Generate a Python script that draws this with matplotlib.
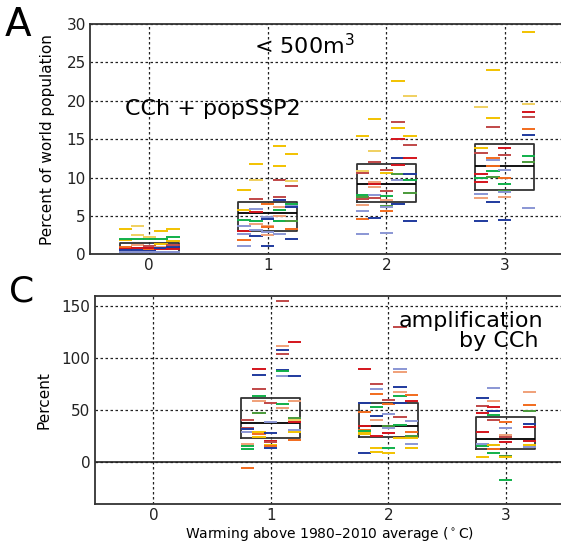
import numpy as np
import matplotlib
matplotlib.use("Agg")
import matplotlib.pyplot as plt

# colour of each hydrological model
PALETTE = {
    'gold': '#f2c200', 'lightgold': '#f0d060', 'orange': '#f26b1d',
    'salmon': '#f0a078', 'red': '#d4141c', 'rose': '#c04848',
    'navy': '#1f3a9e', 'lightblue': '#8a96d4', 'green': '#10b04a',
    'olive': '#4a9a3a',
}

# ---- panel A: percent of world population below 500 m3 ----
# (column 1..5 within a warming level, value, model colour)
A_G0 = [(1, 3.35, 'gold'), (1, 1.8, 'gold'), (1, 2.05, 'green'), (1, 1.0, 'orange'),
        (1, 0.75, 'red'), (1, 0.5, 'navy'), (1, 0.3, 'lightblue'),
        (2, 3.65, 'lightgold'), (2, 2.5, 'lightgold'), (2, 2.05, 'green'), (2, 1.2, 'salmon'),
        (2, 0.85, 'red'), (2, 0.6, 'navy'), (2, 0.35, 'lightblue'),
        (3, 2.2, 'lightgold'), (3, 1.95, 'green'), (3, 1.1, 'rose'), (3, 0.8, 'red'),
        (3, 0.6, 'orange'), (3, 0.45, 'navy'), (3, 0.25, 'lightblue'),
        (4, 3.1, 'gold'), (4, 1.95, 'green'), (4, 1.4, 'gold'), (4, 1.0, 'salmon'),
        (4, 0.65, 'red'), (4, 0.85, 'navy'), (4, 0.3, 'lightblue'),
        (5, 3.35, 'gold'), (5, 2.2, 'green'), (5, 1.75, 'gold'), (5, 1.2, 'rose'),
        (5, 0.7, 'red'), (5, 0.9, 'navy'), (5, 0.35, 'lightblue')]
A_G1 = [(1, 8.4, 'gold'), (1, 5.8, 'gold'), (1, 4.5, 'green'), (1, 3.7, 'lightblue'),
        (1, 3.0, 'red'), (1, 2.6, 'lightblue'), (1, 1.85, 'orange'), (1, 1.1, 'lightblue'),
        (2, 11.75, 'gold'), (2, 9.7, 'lightgold'), (2, 7.2, 'rose'), (2, 5.9, 'lightblue'),
        (2, 5.5, 'red'), (2, 4.35, 'green'), (2, 3.9, 'salmon'), (2, 3.2, 'lightblue'),
        (2, 2.4, 'navy'),
        (3, 6.6, 'orange'), (3, 4.8, 'lightblue'), (3, 4.6, 'navy'), (3, 3.7, 'salmon'),
        (3, 3.5, 'orange'), (3, 2.85, 'lightblue'), (3, 2.5, 'salmon'), (3, 1.1, 'navy'),
        (4, 14.1, 'gold'), (4, 11.45, 'gold'), (4, 9.7, 'rose'), (4, 7.5, 'rose'),
        (4, 7.1, 'navy'), (4, 6.1, 'salmon'), (4, 5.8, 'green'), (4, 5.0, 'salmon'),
        (4, 4.3, 'green'), (4, 2.7, 'lightblue'),
        (5, 13.05, 'gold'), (5, 9.5, 'lightgold'), (5, 8.9, 'rose'), (5, 6.6, 'green'),
        (5, 6.3, 'lightblue'), (5, 6.1, 'navy'), (5, 4.3, 'olive'), (5, 3.3, 'orange'),
        (5, 2.0, 'navy')]
A_G2 = [(1, 15.35, 'gold'), (1, 10.8, 'lightgold'), (1, 10.6, 'rose'), (1, 7.7, 'green'),
        (1, 7.5, 'olive'), (1, 7.2, 'rose'), (1, 6.4, 'salmon'), (1, 5.7, 'lightblue'),
        (1, 4.6, 'orange'), (1, 2.65, 'lightblue'),
        (2, 17.6, 'gold'), (2, 13.5, 'lightgold'), (2, 12.0, 'rose'), (2, 9.4, 'salmon'),
        (2, 9.1, 'red'), (2, 8.8, 'salmon'), (2, 7.7, 'lightblue'), (2, 7.3, 'rose'),
        (2, 4.7, 'navy'),
        (3, 11.0, 'rose'), (3, 10.6, 'gold'), (3, 8.3, 'rose'), (3, 7.6, 'green'),
        (3, 7.1, 'salmon'), (3, 6.3, 'olive'), (3, 6.2, 'lightblue'), (3, 5.6, 'orange'),
        (3, 2.8, 'lightblue'),
        (4, 22.6, 'gold'), (4, 17.3, 'rose'), (4, 16.4, 'gold'), (4, 15.0, 'red'),
        (4, 12.5, 'navy'), (4, 11.6, 'red'), (4, 10.4, 'olive'), (4, 9.7, 'lightblue'),
        (4, 6.5, 'navy'),
        (5, 20.65, 'lightgold'), (5, 15.35, 'gold'), (5, 14.2, 'rose'), (5, 12.5, 'red'),
        (5, 10.5, 'navy'), (5, 9.7, 'green'), (5, 8.0, 'olive'), (5, 4.3, 'navy')]
A_G3 = [(1, 19.2, 'lightgold'), (1, 13.9, 'gold'), (1, 13.2, 'rose'), (1, 10.4, 'red'),
        (1, 9.9, 'green'), (1, 9.4, 'red'), (1, 7.8, 'lightblue'), (1, 7.4, 'salmon'),
        (1, 4.3, 'navy'),
        (2, 24.0, 'gold'), (2, 17.7, 'gold'), (2, 16.6, 'rose'), (2, 12.6, 'orange'),
        (2, 12.3, 'lightblue'), (2, 11.5, 'orange'), (2, 10.9, 'green'), (2, 10.1, 'olive'),
        (2, 6.8, 'navy'),
        (3, 13.8, 'red'), (3, 12.9, 'rose'), (3, 11.0, 'lightblue'), (3, 10.0, 'orange'),
        (3, 9.1, 'green'), (3, 8.25, 'olive'), (3, 8.1, 'lightblue'), (3, 7.5, 'salmon'),
        (3, 4.5, 'navy'),
        (5, 29.0, 'gold'), (5, 19.6, 'lightgold'), (5, 18.6, 'red'), (5, 17.9, 'rose'),
        (5, 16.3, 'orange'), (5, 15.5, 'navy'), (5, 12.8, 'green'), (5, 12.0, 'olive'),
        (5, 6.0, 'lightblue')]
A_GROUPS = [A_G0, A_G1, A_G2, A_G3]
A_POS = [0, 1, 2, 3]
A_Q1 = [0.35, 3.1, 6.8, 8.4]
A_MED = [0.8, 5.35, 9.2, 11.55]
A_Q3 = [1.45, 6.75, 11.7, 14.35]

# ---- panel C: amplification by climate change (percent) ----
C_G1 = [(1, -5.4, 'orange'), (1, 17.2, 'salmon'), (1, 15.3, 'green'), (1, 13.1, 'green'),
        (1, 28.7, 'lightblue'), (1, 33.4, 'rose'), (1, 32.0, 'navy'), (1, 40.8, 'rose'),
        (2, 90.1, 'red'), (2, 83.8, 'navy'), (2, 70.7, 'rose'), (2, 63.4, 'green'),
        (2, 59.2, 'salmon'), (2, 47.8, 'olive'), (2, 28.7, 'gold'), (2, 27.4, 'orange'),
        (2, 24.8, 'gold'),
        (3, 57.3, 'rose'), (3, 38.5, 'lightblue'), (3, 27.7, 'navy'), (3, 20.4, 'red'),
        (3, 19.1, 'rose'), (3, 16.6, 'gold'), (3, 15.9, 'orange'), (3, 14.0, 'navy'),
        (4, 154.5, 'rose'), (4, 111.8, 'salmon'), (4, 108.3, 'navy'), (4, 104.1, 'rose'),
        (4, 88.5, 'navy'), (4, 87.6, 'green'), (4, 82.8, 'lightblue'), (4, 55.7, 'green'),
        (4, 52.5, 'salmon'),
        (5, 115.6, 'red'), (5, 82.5, 'navy'), (5, 59.2, 'salmon'), (5, 42.7, 'olive'),
        (5, 40.8, 'lightgold'), (5, 38.5, 'red'), (5, 31.2, 'lightblue'), (5, 29.0, 'gold'),
        (5, 21.7, 'orange')]
C_G2 = [(1, 89.6, 'red'), (1, 57.0, 'navy'), (1, 48.1, 'orange'), (1, 34.5, 'red'),
        (1, 31.0, 'orange'), (1, 29.7, 'green'), (1, 28.5, 'gold'), (1, 27.2, 'gold'),
        (1, 8.5, 'navy'),
        (2, 75.6, 'rose'), (2, 70.3, 'lightblue'), (2, 65.2, 'orange'), (2, 53.2, 'green'),
        (2, 44.6, 'navy'), (2, 40.8, 'salmon'), (2, 25.6, 'red'), (2, 13.9, 'gold'),
        (2, 9.5, 'gold'),
        (3, 60.1, 'rose'), (3, 55.7, 'orange'), (3, 46.8, 'lightblue'), (3, 34.5, 'olive'),
        (3, 32.6, 'lightblue'), (3, 27.8, 'red'), (3, 13.9, 'green'), (3, 8.5, 'gold'),
        (4, 129.7, 'rose'), (4, 89.2, 'lightblue'), (4, 86.7, 'salmon'), (4, 72.5, 'navy'),
        (4, 67.1, 'salmon'), (4, 63.9, 'green'), (4, 56.6, 'navy'), (4, 43.7, 'rose'),
        (4, 36.1, 'green'), (4, 23.7, 'gold'),
        (5, 64.2, 'orange'), (5, 58.9, 'red'), (5, 39.6, 'lightblue'), (5, 28.8, 'orange'),
        (5, 25.6, 'olive'), (5, 23.7, 'gold'), (5, 17.4, 'lightblue'), (5, 13.9, 'gold')]
C_G3 = [(1, 61.7, 'navy'), (1, 54.1, 'rose'), (1, 47.2, 'red'), (1, 29.4, 'red'),
        (1, 18.0, 'lightblue'), (1, 16.1, 'green'), (1, 4.7, 'gold'),
        (2, 71.2, 'lightblue'), (2, 58.9, 'salmon'), (2, 53.2, 'red'), (2, 49.4, 'navy'),
        (2, 45.9, 'green'), (2, 40.5, 'rose'), (2, 17.1, 'navy'), (2, 16.8, 'gold'),
        (2, 12.7, 'orange'), (2, 8.5, 'green'),
        (3, 38.3, 'orange'), (3, 33.2, 'lightblue'), (3, 26.3, 'salmon'), (3, 24.4, 'rose'),
        (3, 19.3, 'red'), (3, 6.0, 'olive'), (3, 4.7, 'gold'), (3, -17.1, 'green'),
        (5, 67.1, 'salmon'), (5, 55.4, 'orange'), (5, 49.4, 'olive'), (5, 37.3, 'navy'),
        (5, 34.2, 'red'), (5, 20.9, 'red'), (5, 17.1, 'gold'), (5, 15.2, 'lightblue')]
C_GROUPS = [C_G1, C_G2, C_G3]
C_POS = [1, 2, 3]
C_Q1 = [23.8, 24.7, 12.7]
C_MED = [37.5, 35.2, 22.4]
C_Q3 = [62.0, 57.4, 43.9]

XTICKS = [0, 1, 2, 3]


def draw_panel(ax, groups, positions, q1, med, q3):
    # short horizontal dashes, one per model run
    for pos, grp in zip(positions, groups):
        cols = np.array([g[0] for g in grp])
        vals = np.array([g[1] for g in grp])
        clrs = [PALETTE[g[2]] for g in grp]
        xc = pos + (cols - 3) * 0.1
        ax.hlines(vals, xc - 0.056, xc + 0.056, colors=clrs, lw=1.4, zorder=3)
    stats = [dict(med=m, q1=a, q3=b, whislo=a, whishi=b, fliers=[])
             for a, m, b in zip(q1, med, q3)]
    ax.bxp(stats, positions=positions, widths=0.5, showcaps=False,
           boxprops=dict(color='#333333', lw=1.3),
           whiskerprops=dict(lw=0),
           medianprops=dict(color='black', lw=1.3), manage_ticks=False)
    ax.set_xlim(-0.5, 3.5)
    ax.set_xticks(XTICKS)
    ax.grid(True, color='#222222', linestyle=(0, (2, 2)), lw=0.9)
    ax.set_axisbelow(True)
    for s in ax.spines.values():
        s.set_color('#333333')
        s.set_linewidth(1.3)
    ax.tick_params(direction='in', length=0, labelsize=11, pad=3, colors='#222222')


fig = plt.figure(figsize=(5.61, 5.42), dpi=100)

axA = fig.add_axes([0.1604, 0.5308, 0.8449, 0.4249])
draw_panel(axA, A_GROUPS, A_POS, A_Q1, A_MED, A_Q3)
axA.set_ylim(0, 30)
axA.set_yticks(np.arange(0, 31, 5))
axA.set_ylabel('Percent of world population', fontsize=11)
axA.yaxis.set_label_coords(-0.074, 0.5)
axA.text(0.887, 26.1, '< 500m$^3$', fontsize=16, ha='left', va='baseline')
axA.text(-0.206, 18.15, 'CCh + popSSP2', fontsize=16, ha='left', va='baseline')

axC = fig.add_axes([0.1688, 0.0701, 0.8371, 0.3843])
draw_panel(axC, C_GROUPS, C_POS, C_Q1, C_MED, C_Q3)
axC.axhline(0, color='#222222', lw=1.2, zorder=2)
axC.set_ylim(-40, 160)
axC.set_yticks([0, 50, 100, 150])
axC.set_ylabel('Percent', fontsize=11)
axC.yaxis.set_label_coords(-0.091, 0.5)
axC.set_xlabel('Warming above 1980–2010 average ($^\\circ$C)', fontsize=10, labelpad=1)
axC.text(3.319, 130, 'amplification', fontsize=16, ha='right', va='baseline')
axC.text(3.28, 110.3, 'by CCh', fontsize=16, ha='right', va='baseline')

fig.text(5 / 561, 1 - 36 / 542, 'A', fontsize=28, ha='left', va='baseline')
fig.text(9 / 561, 1 - 301 / 542, 'C', fontsize=26, ha='left', va='baseline')

fig.savefig('out.png', dpi=100)
